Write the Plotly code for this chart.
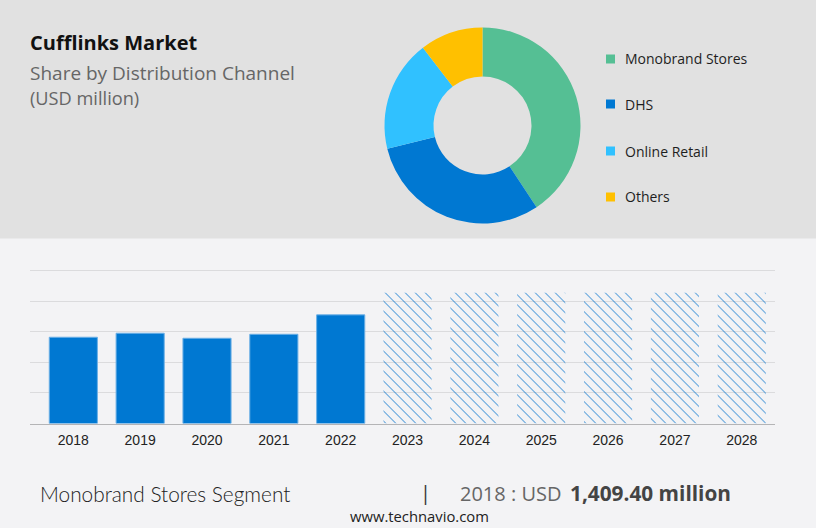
import plotly.graph_objects as go

W, H = 816, 528

years = ["2018", "2019", "2020", "2021", "2022", "2023", "2024", "2025", "2026", "2027", "2028"]
actual_years = years[:5]
actual_values = [1409.4, 1475, 1393, 1458, 1775]
forecast_years = years[5:]
forecast_values = [2135, 2135, 2135, 2135, 2135, 2135]

channels = ["Monobrand Stores", "DHS", "Online Retail", "Others"]
shares = [40.7, 30.5, 18.4, 10.4]
colors = ["#55BF94", "#0078D2", "#30C1FF", "#FFC000"]
legend_y_px = [59, 104, 151, 197]


def px(v):
    return v / W


def py(v):
    return 1 - v / H


fig = go.Figure()

fig.add_trace(go.Bar(
    x=actual_years, y=actual_values, width=0.72,
    marker=dict(color="#0078D2", line=dict(color="#6CB0E6", width=1)),
    showlegend=False, hoverinfo="x+y",
))
fig.add_trace(go.Bar(
    x=forecast_years, y=forecast_values, width=0.72,
    marker=dict(
        color="rgba(0,0,0,0)",
        line=dict(width=0),
        pattern=dict(shape="\\", size=7.07, solidity=0.12, fgcolor="#0070CC",
                     fgopacity=1, fillmode="replace", bgcolor="rgba(0,0,0,0)"),
    ),
    showlegend=False, hoverinfo="x",
))
fig.add_trace(go.Pie(
    labels=channels, values=shares, hole=0.5, sort=False, direction="clockwise",
    rotation=0, textinfo="none", showlegend=False,
    marker=dict(colors=colors, line=dict(width=0)),
    domain=dict(x=[px(384.5), px(580.5)], y=[py(223.5), py(27.5)]),
))

shapes = [dict(type="rect", xref="paper", yref="paper", x0=0, x1=1, y0=py(238.5), y1=1,
               fillcolor="#E1E1E1", line=dict(width=0), layer="below")]
annotations = []


def text(x, y, s, size, color, family, anchor="left", weight=None):
    font = dict(size=size, color=color, family=family)
    if weight:
        font["weight"] = weight
    annotations.append(dict(xref="paper", yref="paper", x=px(x), y=py(y), text=s,
                            showarrow=False, xanchor=anchor, yanchor="middle",
                            align="left", font=font))


for name, col, ly in zip(channels, colors, legend_y_px):
    shapes.append(dict(type="rect", xref="paper", yref="paper",
                       x0=px(606), x1=px(615), y0=py(ly + 4.5), y1=py(ly - 4.5),
                       fillcolor=col, line=dict(width=0)))
    text(622.5, ly, name, 14, "#1E1E1E", "Open Sans")

text(28, 42, "<b>Cufflinks Market</b>", 20, "#111111", "Open Sans")
text(28, 73, "Share by Distribution Channel", 19, "#666666", "Open Sans")
text(28, 98, "(USD million)", 18.2, "#666666", "Open Sans")
text(38, 493, "Monobrand Stores Segment", 20.8, "#222222", "Lato", weight=300)
text(418, 492, "|", 20, "#333333", "Open Sans")
text(458, 493, "2018 : USD", 20, "#666666", "Open Sans")
text(568, 493, "<b>1,409.40 million</b>", 20.8, "#444444", "Open Sans")
text(420, 516, "www.technavio.com", 14.8, "#222222", "Open Sans", "center")

fig.update_layout(
    width=W, height=H, autosize=False,
    margin=dict(l=0, r=0, t=0, b=0, pad=0),
    paper_bgcolor="#F3F3F5", plot_bgcolor="rgba(0,0,0,0)",
    barmode="overlay", shapes=shapes, annotations=annotations,
    xaxis=dict(domain=[px(30), px(775)], type="category", categoryorder="array",
               categoryarray=years, range=[-0.648, 10.497],
               showgrid=False, zeroline=False, showline=True, linecolor="#B4B4B6", linewidth=1,
               ticks="", ticklabelstandoff=4,
               tickfont=dict(size=14, color="#222222", family="Liberation Sans")),
    yaxis=dict(domain=[py(423.5), py(267.5)], range=[0, 2549], tick0=0, dtick=500,
               showticklabels=False, showgrid=True, gridcolor="#DBDBDD", gridwidth=1,
               zeroline=False, ticks=""),
    showlegend=False,
)

fig.write_html("out.html", config={"displayModeBar": False},
               post_script="document.body.style.margin='0';document.body.style.overflow='hidden';")
